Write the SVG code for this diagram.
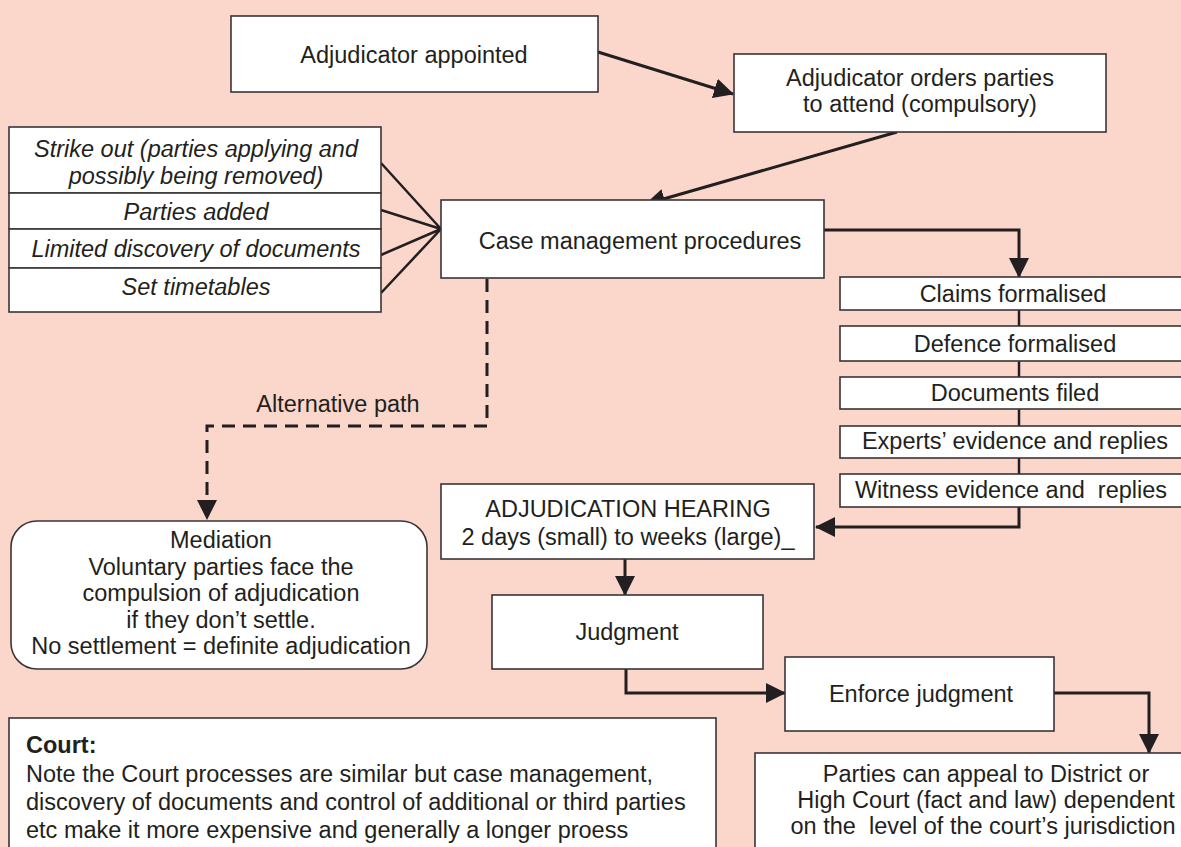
<svg xmlns="http://www.w3.org/2000/svg" width="1181" height="847" viewBox="0 0 1181 847">
  <defs>
    <style>
      .bg { fill: #fad6cb; }
      .box { fill: #ffffff; stroke: #3a3536; stroke-width: 1.6; }
      .t { font-family: "Liberation Sans", Arial, sans-serif; font-size: 23.5px; fill: #231f20; }
      .c { text-anchor: middle; }
      .i { font-style: italic; }
      .b { font-weight: bold; }
      .wire { fill: none; stroke: #231f20; stroke-width: 3; }
      .thin { fill: none; stroke: #231f20; stroke-width: 2.5; }
      .dash { fill: none; stroke: #231f20; stroke-width: 3; stroke-dasharray: 13 8; }
    </style>
    <marker id="arrow" viewBox="0 0 20 20" refX="19" refY="10" markerWidth="20" markerHeight="20" markerUnits="userSpaceOnUse" orient="auto">
      <path d="M0,0 L20,10 L0,20 z" fill="#231f20"/>
    </marker>
  </defs>

  <rect class="bg" x="0" y="0" width="1181" height="847"/>

  <!-- connectors -->
  <g id="connectors">
    <path class="wire" d="M598,52 L733,94" marker-end="url(#arrow)"/>
    <path class="wire" d="M897,132 L646,204" marker-end="url(#arrow)"/>
    <path class="wire" d="M824,230 H1019 V277" marker-end="url(#arrow)"/>
    <path class="thin" d="M1019,310 V507"/>
    <path class="wire" d="M1019,507 V527 H816" marker-end="url(#arrow)"/>
    <path class="wire" d="M625,559 V595" marker-end="url(#arrow)"/>
    <path class="wire" d="M626,669 V693 H785" marker-end="url(#arrow)"/>
    <path class="wire" d="M1054,693 H1149 V753" marker-end="url(#arrow)"/>
    <path class="dash" d="M487,279 V426 H207 V519" marker-end="url(#arrow)"/>
    <path class="thin" d="M381,163 L441,229 M381,210 L441,229 M381,255 L441,229 M381,293 L441,229"/>
  </g>

  <g id="appointed">
    <rect class="box" x="231" y="16" width="367" height="76"/>
    <text class="t c" x="414" y="63">Adjudicator appointed</text>
  </g>

  <g id="orders">
    <rect class="box" x="734" y="54" width="372" height="78"/>
    <text class="t c" x="920" y="86">Adjudicator orders parties</text>
    <text class="t c" x="920" y="112">to attend (compulsory)</text>
  </g>

  <g id="case-actions">
    <rect class="box" x="9" y="127" width="372" height="66"/>
    <rect class="box" x="9" y="193" width="372" height="36"/>
    <rect class="box" x="9" y="229" width="372" height="39"/>
    <rect class="box" x="9" y="268" width="372" height="44"/>
    <text class="t c i" x="196" y="157">Strike out (parties applying and</text>
    <text class="t c i" x="196" y="184">possibly being removed)</text>
    <text class="t c i" x="196" y="220">Parties added</text>
    <text class="t c i" x="196" y="257">Limited discovery of documents</text>
    <text class="t c i" x="196" y="295">Set timetables</text>
  </g>

  <g id="case-management">
    <rect class="box" x="441" y="200" width="383" height="78"/>
    <text class="t c" x="640" y="249">Case management procedures</text>
  </g>

  <g id="claims">
    <rect class="box" x="840" y="277" width="350" height="33"/>
    <text class="t c" x="1013" y="302">Claims formalised</text>
  </g>
  <g id="defence">
    <rect class="box" x="840" y="326" width="350" height="35"/>
    <text class="t c" x="1015" y="352">Defence formalised</text>
  </g>
  <g id="documents">
    <rect class="box" x="840" y="377" width="350" height="32"/>
    <text class="t c" x="1015" y="401">Documents filed</text>
  </g>
  <g id="experts">
    <rect class="box" x="840" y="426" width="350" height="32"/>
    <text class="t c" x="1015" y="449">Experts’ evidence and replies</text>
  </g>
  <g id="witness">
    <rect class="box" x="840" y="474" width="350" height="33"/>
    <text class="t c" x="1011" y="498" xml:space="preserve">Witness evidence and  replies</text>
  </g>

  <g id="hearing">
    <rect class="box" x="441" y="484" width="373" height="75"/>
    <text class="t c" x="628" y="517">ADJUDICATION HEARING</text>
    <text class="t c" x="628" y="545">2 days (small) to weeks (large)_</text>
  </g>

  <g id="judgment">
    <rect class="box" x="492" y="595" width="271" height="74"/>
    <text class="t c" x="627" y="640">Judgment</text>
  </g>

  <g id="enforce">
    <rect class="box" x="785" y="657" width="269" height="74"/>
    <text class="t c" x="921" y="702">Enforce judgment</text>
  </g>

  <g id="alternative-label">
    <text class="t c" x="338" y="412">Alternative path</text>
  </g>

  <g id="mediation">
    <rect class="box" x="11" y="521" width="416" height="148" rx="26" ry="26"/>
    <text class="t c" x="221" y="548">Mediation</text>
    <text class="t c" x="221" y="575">Voluntary parties face the</text>
    <text class="t c" x="221" y="601">compulsion of adjudication</text>
    <text class="t c" x="221" y="628">if they don’t settle.</text>
    <text class="t c" x="221" y="654">No settlement = definite adjudication</text>
  </g>

  <g id="court-note">
    <rect class="box" x="9" y="718" width="707" height="150"/>
    <text class="t b" x="26" y="753">Court:</text>
    <text class="t" x="26" y="782">Note the Court processes are similar but case management,</text>
    <text class="t" x="26" y="810">discovery of documents and control of additional or third parties</text>
    <text class="t" x="26" y="838">etc make it more expensive and generally a longer proess</text>
  </g>

  <g id="appeal">
    <rect class="box" x="755" y="753" width="460" height="120"/>
    <text class="t c" x="986" y="782">Parties can appeal to District or</text>
    <text class="t c" x="986" y="808">High Court (fact and law) dependent</text>
    <text class="t c" x="983" y="834" xml:space="preserve">on the  level of the court’s jurisdiction</text>
  </g>
</svg>
